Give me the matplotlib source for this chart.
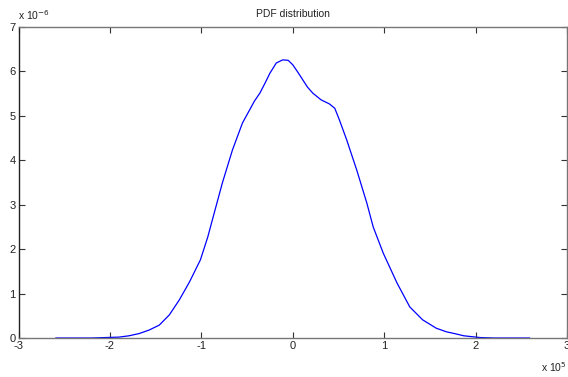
import matplotlib
matplotlib.use("Agg")
import matplotlib.pyplot as plt

plt.rcParams['font.family'] = ['Liberation Sans', 'DejaVu Sans']
plt.rcParams['axes.unicode_minus'] = False

# x in units of 1e5, pdf in units of 1e-6
x_vals = [-2.59, -2.2, -1.9, -1.79, -1.68, -1.57, -1.46, -1.35, -1.24, -1.13,
          -1.01, -0.93, -0.87, -0.77, -0.66, -0.55, -0.47, -0.42, -0.36, -0.3,
          -0.25, -0.18, -0.11, -0.05, 0.0, 0.05, 0.11, 0.16, 0.22, 0.31, 0.4,
          0.46, 0.51, 0.59, 0.7, 0.81, 0.88, 0.99, 1.14, 1.28, 1.42, 1.57,
          1.68, 1.79, 1.87, 1.96, 2.05, 2.2, 2.59]
pdf_vals = [0.0, 0.0, 0.02, 0.05, 0.1, 0.18, 0.29, 0.52, 0.86, 1.26,
            1.76, 2.27, 2.73, 3.49, 4.23, 4.84, 5.14, 5.33, 5.51, 5.75,
            5.96, 6.19, 6.26, 6.25, 6.15, 6.0, 5.81, 5.65, 5.51, 5.36, 5.27,
            5.17, 4.91, 4.46, 3.78, 3.04, 2.5, 1.91, 1.24, 0.7, 0.41, 0.22,
            0.14, 0.09, 0.05, 0.03, 0.01, 0.0, 0.0]
xticks = [-3, -2, -1, 0, 1, 2, 3]
yticks = [0, 1, 2, 3, 4, 5, 6, 7]

fig = plt.figure(figsize=(5.68, 3.77), dpi=100)
ax = fig.add_axes([18.5/568, 1-338/377, 548.5/568, 311/377])
ax.plot(x_vals, pdf_vals, color='#0000ff', lw=0.9, solid_joinstyle='round')
ax.set_xlim(-3, 3)
ax.set_ylim(0, 7)
ax.set_xticks(xticks)
ax.set_yticks(yticks)
ax.tick_params(direction='in', length=4, width=0.8, color='#333333',
               top=True, right=True, labelsize=8, pad=2, labelcolor='#222222')
for s in ax.spines.values():
    s.set_color('#777777')
    s.set_linewidth(1.0)
ax.spines['left'].set_color('#222222')
ax.set_title('PDF distribution', fontsize=7.5, pad=7, color='#222222')
fig.text(18/568, 1-20/377, 'x 10$^{-6}$', fontsize=7.5, color='#222222', ha='left', va='baseline')
fig.text(541/568, 1-372/377, 'x 10$^{5}$', fontsize=7.5, color='#222222', ha='left', va='baseline')
fig.savefig('out.png', dpi=100)
